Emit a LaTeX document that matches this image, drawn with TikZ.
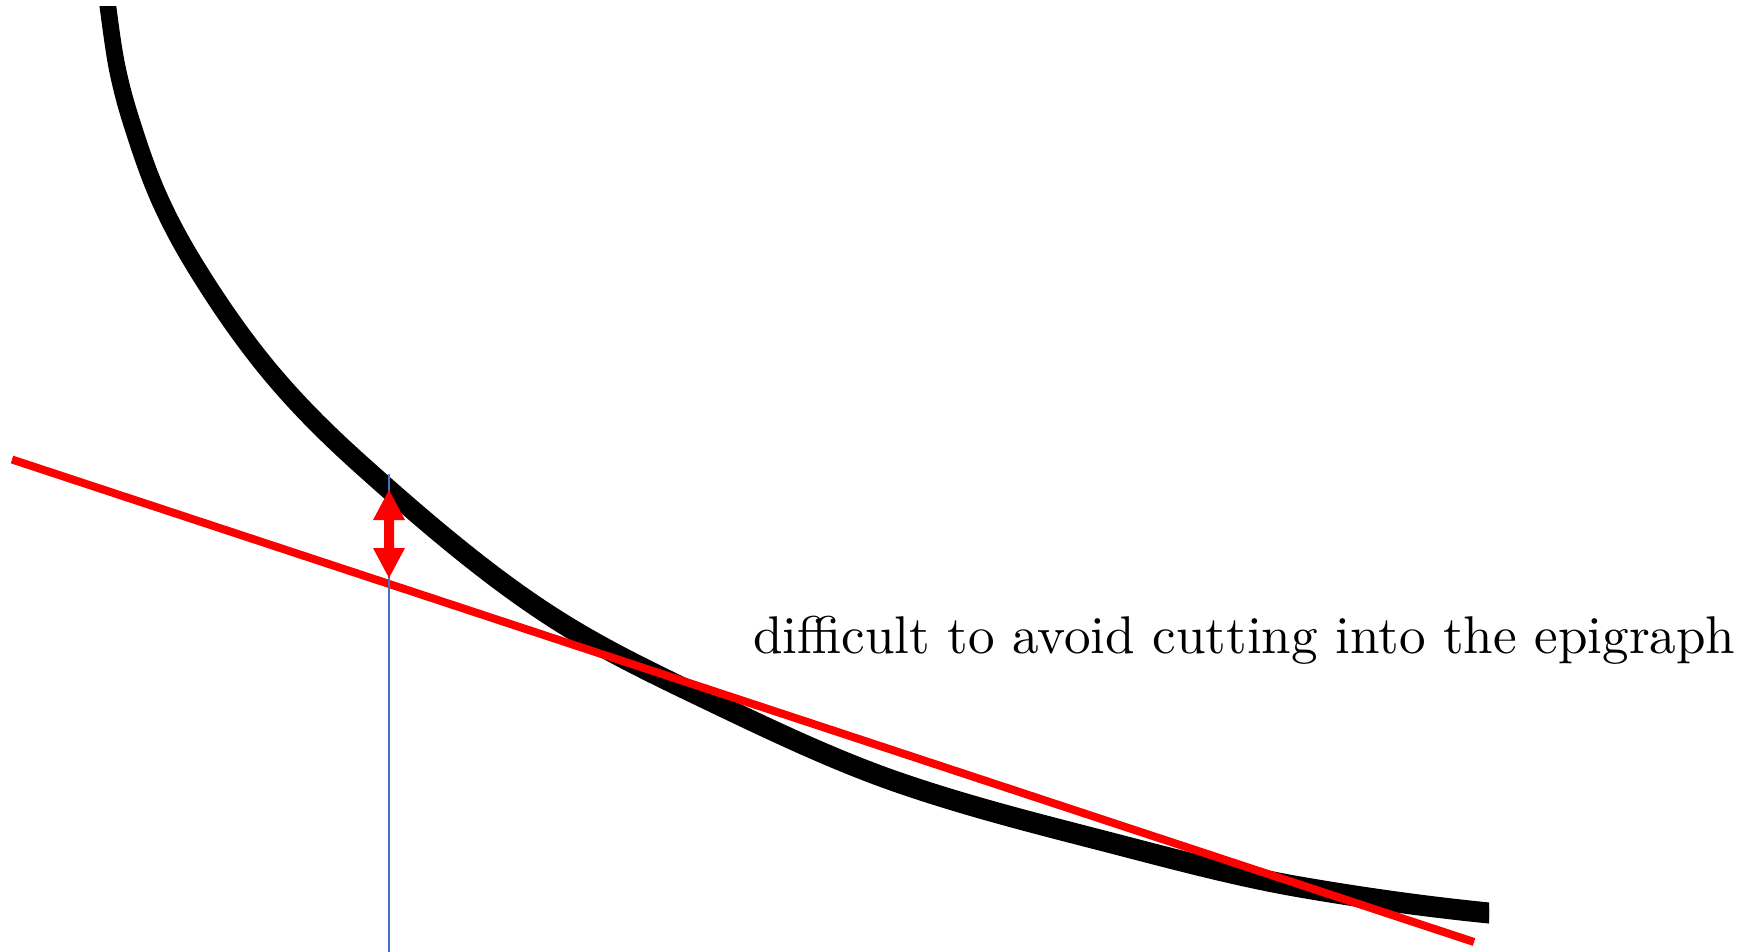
\documentclass[tikz,border=0pt]{standalone}
\usepackage{graphicx}
\newcommand\epicurvepath{(106.4,-5) -- (108,7)
 .. controls (111,30) and (114,52.3) .. (117,67)
 .. controls (123,96.3) and (129,114.3) .. (135,133)
 .. controls (143.33,159) and (151.67,181.6) .. (160,200)
 .. controls (174.67,232.4) and (189.33,256.8) .. (204,280)
 .. controls (228.33,318.4) and (252.67,351.7) .. (277,380)
 .. controls (307,414.9) and (337,443.2) .. (367,470)
 .. controls (431.33,527.5) and (495.67,581.7) .. (560,622)
 .. controls (606.67,651.2) and (653.33,673.6) .. (700,696)
 .. controls (766.67,728) and (833.33,760.1) .. (900,783)
 .. controls (966.67,805.9) and (1033.33,822.8) .. (1100,840)
 .. controls (1166.67,857.2) and (1233.33,875.5) .. (1300,887)
 .. controls (1363,897.9) and (1426,906.7) .. (1489,913)
 -- (1510,915.1)}
\begin{document}
\begin{tikzpicture}[x=1pt,y=-1pt,
  curvestyle/.style={line width=16pt, black, line cap=butt, line join=round},
  secant/.style={line width=8pt, red, line cap=butt},
  guide/.style={line width=1.5pt, color={rgb,255:red,68;green,114;blue,196}},
  gaparrow/.style={fill=red, draw=none},
  lbl/.style={inner sep=0pt, anchor=base west}]
\useasboundingbox (0,0) rectangle (1743,952);
% convex curve (two copies offset vertically give its thicker flat part)
\begin{scope}
\clip (0,7) rectangle (1489,952);
\begin{scope}[yshift=2.5pt]
\draw[curvestyle] \epicurvepath;
\end{scope}
\begin{scope}[yshift=-2.5pt]
\draw[curvestyle] \epicurvepath;
\end{scope}
\end{scope}
% secant line
\coordinate (sa) at (12,459.5);
\coordinate (sb) at (1474,942);
\draw[secant] (sa) -- (sb);
% vertical guide
\coordinate (ga) at (389,474);
\coordinate (gb) at (389,952);
\draw[guide] (ga) -- (gb);
% double arrow
\fill[gaparrow] (389,490) -- (405,520) -- (394,520) -- (394,548) -- (405,548)
  -- (389,578) -- (373,548) -- (384,548) -- (384,520) -- (373,520) -- cycle;
% label
\node[lbl] (t) at (753,653) {\resizebox{982pt}{!}{difficult to avoid cutting into the epigraph}};
\end{tikzpicture}
\end{document}
